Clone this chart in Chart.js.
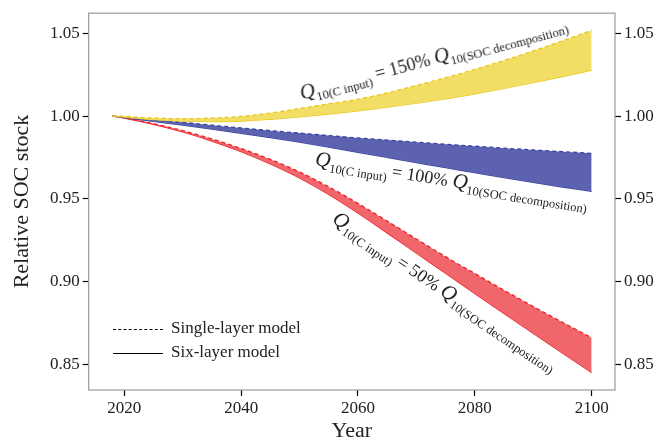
<!DOCTYPE html>
<html>
<head>
<meta charset="utf-8">
<script src="https://cdn.jsdelivr.net/npm/chart.js@4"></script>
<style>
  body { margin: 0; background: #fff; }
  #wrap { position: relative; width: 658px; height: 442px; font-family: "Liberation Serif", "DejaVu Serif", serif; color: #222; }
  #myChart { position: absolute; left: 0; top: 0; }
  .note { position: absolute; white-space: nowrap; font-size: 18px; line-height: 24px; transform-origin: 0 50%; }
  .note i { font-size: 21px; }
  .note sub { font-size: 12.5px; vertical-align: -5px; }
  .legend { position: absolute; left: 113px; font-size: 17px; line-height: 20px; }
  .legend span.ln { display: inline-block; width: 50px; vertical-align: middle; margin-right: 8px; }
</style>
</head>
<body>
<div id="wrap">
  <canvas id="myChart" width="658" height="442"></canvas>
  <div class="note" style="left:301px; top:81px; transform: rotate(-15deg);"><i>Q</i><sub>10(C input)</sub> = 150% <i>Q</i><sub>10(SOC decomposition)</sub></div>
  <div class="note" style="left:315px; top:146px; transform: rotate(9deg);"><i>Q</i><sub>10(C input)</sub> = 100% <i>Q</i><sub>10(SOC decomposition)</sub></div>
  <div class="note" style="left:333px; top:203px; transform: rotate(34deg);"><i>Q</i><sub>10(C input)</sub> = 50% <i>Q</i><sub>10(SOC decomposition)</sub></div>
  <div class="legend" style="top:318px;"><span class="ln" style="border-top:1.6px dashed #000;"></span>Single-layer model</div>
  <div class="legend" style="top:342px;"><span class="ln" style="border-top:1.8px solid #000;"></span>Six-layer model</div>
</div>
<script>
// years and relative SOC stock
const years = [2018, 2020, 2025, 2030, 2035, 2040, 2045, 2050, 2055, 2060, 2065, 2070, 2075, 2080, 2085, 2090, 2095, 2100];

const single150 = [1.0, 0.9998, 0.9988, 0.9984, 0.9988, 0.9998, 1.0018, 1.0046, 1.0074, 1.0102, 1.0140, 1.0185, 1.0232, 1.0282, 1.0336, 1.0394, 1.0455, 1.0518];
const six150 = [1.0, 0.9994, 0.9978, 0.9969, 0.9966, 0.9970, 0.9981, 0.9995, 1.0012, 1.0032, 1.0054, 1.0078, 1.0104, 1.0134, 1.0167, 1.0202, 1.0239, 1.0278];

const single100 = [1.0, 0.9994, 0.9978, 0.9962, 0.9945, 0.9928, 0.9912, 0.9897, 0.9882, 0.9868, 0.9855, 0.9842, 0.9830, 0.9818, 0.9806, 0.9795, 0.9785, 0.9775];
const six100 = [1.0, 0.9991, 0.9968, 0.9945, 0.9921, 0.9896, 0.9870, 0.9842, 0.9812, 0.9781, 0.9750, 0.9719, 0.9688, 0.9658, 0.9628, 0.9599, 0.9571, 0.9545];

const single50 = [1.0, 0.9990, 0.9954, 0.9912, 0.9862, 0.9804, 0.9738, 0.9662, 0.9572, 0.9472, 0.9365, 0.9257, 0.9150, 0.9048, 0.8947, 0.8849, 0.8753, 0.8660];
const six50 = [1.0, 0.9988, 0.9950, 0.9904, 0.9849, 0.9785, 0.9711, 0.9626, 0.9526, 0.9414, 0.9294, 0.9172, 0.9050, 0.8928, 0.8807, 0.8687, 0.8568, 0.8450];

const xTicks = [2020, 2040, 2060, 2080, 2100];
const yTicks = [0.85, 0.90, 0.95, 1.00, 1.05];

function pts(values) {
  return values.map((v, i) => ({ x: years[i], y: v }));
}

function band(single, six, lineColor, fillColor) {
  return [
    {
      data: pts(single),
      borderColor: lineColor,
      borderWidth: 1.3,
      borderDash: [4, 3],
      backgroundColor: fillColor,
      fill: "+1",
      pointRadius: 0,
      cubicInterpolationMode: "monotone",
    },
    {
      data: pts(six),
      borderColor: lineColor,
      borderWidth: 1.3,
      fill: false,
      pointRadius: 0,
      cubicInterpolationMode: "monotone",
    },
  ];
}

const frame = {
  id: "frame",
  afterDraw(chart) {
    const a = chart.chartArea;
    const ctx = chart.ctx;
    ctx.save();
    ctx.strokeStyle = "#999";
    ctx.lineWidth = 1.2;
    ctx.strokeRect(a.left, a.top, a.right - a.left, a.bottom - a.top);
    ctx.restore();
  },
};

const tickFont = { family: "Liberation Serif", size: 17 };

function yAxis(pos, width, title) {
  return {
    type: "linear",
    position: pos,
    min: 0.8344,
    max: 1.0622,
    afterBuildTicks: (s) => { s.ticks = yTicks.map((v) => ({ value: v })); },
    afterFit: (s) => { s.width = width; },
    grid: { drawOnChartArea: false, color: "#000", tickLength: 6, tickWidth: 1.2 },
    border: { display: false },
    ticks: {
      font: tickFont,
      color: "#222",
      padding: 3,
      callback: (v) => v.toFixed(2),
    },
    title: {
      display: title,
      text: "Relative SOC stock",
      font: { family: "Liberation Serif", size: 22 },
      color: "#222",
      padding: { top: 9, bottom: 0 },
    },
  };
}

new Chart("myChart", {
  type: "line",
  data: {
    datasets: [
      ...band(single150, six150, "#E8C61A", "rgba(242,222,100,1)"),
      ...band(single100, six100, "#3A44A0", "rgba(92,98,176,1)"),
      ...band(single50, six50, "#EE2028", "rgba(240,102,106,1)"),
    ],
  },
  options: {
    responsive: false,
    animation: false,
    layout: { padding: { top: 11, left: 0, right: 0, bottom: 0 } },
    plugins: { legend: { display: false }, tooltip: { enabled: false } },
    scales: {
      x: {
        type: "linear",
        min: 2013.9,
        max: 2104,
        afterBuildTicks: (s) => { s.ticks = xTicks.map((v) => ({ value: v })); },
        afterFit: (s) => { s.height = 52; },
        grid: { drawOnChartArea: false, color: "#000", tickLength: 6, tickWidth: 1.2 },
        border: { display: false },
        ticks: { font: tickFont, color: "#222", padding: 2, callback: (v) => String(v) },
        title: {
          display: true,
          text: "Year",
          font: { family: "Liberation Serif", size: 22, lineHeight: 1 },
          color: "#222",
          padding: { top: 0, bottom: 0 },
        },
      },
      y: yAxis("left", 88.7, true),
      y2: yAxis("right", 43, false),
    },
  },
  plugins: [frame],
});
</script>
</body>
</html>
